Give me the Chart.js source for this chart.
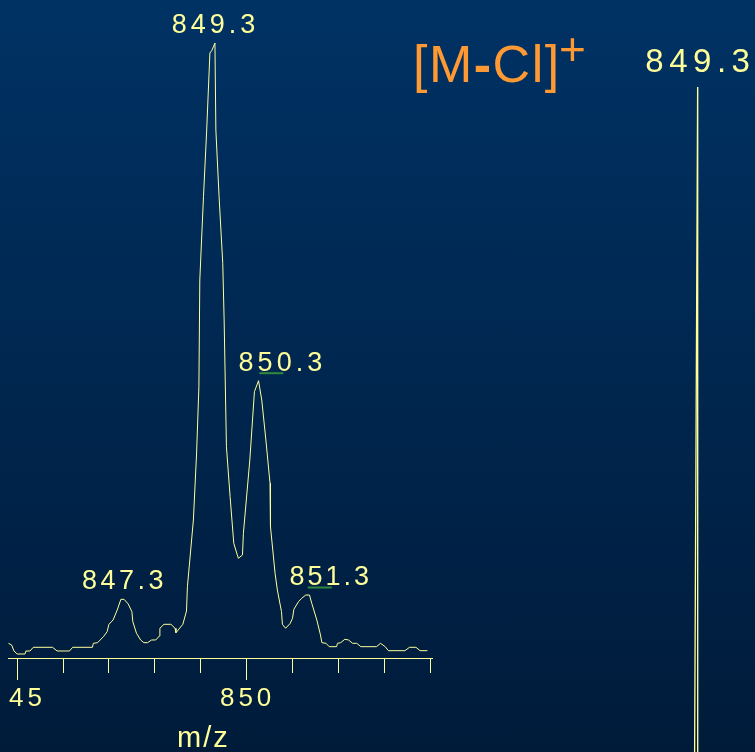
<!DOCTYPE html>
<html><head><meta charset="utf-8">
<script src="https://cdn.jsdelivr.net/npm/chart.js@4.4.0/dist/chart.umd.min.js"></script>
<style>
html,body{margin:0;padding:0;width:755px;height:752px;overflow:hidden;}
body{background:linear-gradient(to bottom,#003264 0%,#001b3a 100%);position:relative;font-family:'Liberation Sans',Arial,sans-serif;}
#c2{position:absolute;left:0;top:0;}
#clip{position:absolute;left:8px;top:0;width:432px;height:752px;overflow:hidden;}
#c1{position:absolute;left:-8px;top:0;}
.title{position:absolute;left:413px;top:38px;font-size:52px;line-height:52px;letter-spacing:1.5px;color:#ff9933;white-space:nowrap;}
.title b{font-weight:bold;}
.plus{position:absolute;left:559px;top:26px;font-size:46px;line-height:46px;color:#ff9933;}
.mz{position:absolute;left:177px;top:723px;font-size:29px;line-height:29px;letter-spacing:2px;color:#ffff99;white-space:nowrap;}
</style></head>
<body>
<canvas id="c2" width="755" height="752"></canvas>
<div id="clip"><canvas id="c1" width="440" height="752"></canvas></div>
<div class="title">[M<b>-</b>Cl]</div>
<div class="plus">+</div>
<div class="mz">m/z</div>
<script>
// ---- inset spectrum (zoomed, m/z vs relative intensity %) ----
const insetMz = [844.81,844.88,844.93,845.00,845.17,845.19,845.28,845.35,845.77,845.87,846.14,846.21,846.64,846.66,846.75,846.88,846.96,847.00,847.09,847.18,847.26,847.33,847.42,847.50,847.52,847.60,847.69,847.76,847.84,847.93,848.02,848.10,848.11,848.20,848.35,848.44,848.46,848.61,848.69,848.71,848.84,848.91,848.96,848.98,849.06,849.13,849.20,849.24,849.31,849.33,849.40,849.48,849.51,849.56,849.64,849.72,849.82,849.91,849.93,850.07,850.17,850.26,850.33,850.42,850.51,850.52,850.62,850.67,850.76,850.78,850.85,850.95,851.00,851.03,851.13,851.20,851.29,851.37,851.42,851.53,851.61,851.64,851.73,851.80,851.96,851.98,852.05,852.14,852.22,852.31,852.40,852.49,852.83,852.92,853.02,853.09,853.45,853.55,853.69,853.78,853.94];
const insetIntensity = [2.39,2.11,1.14,0.65,0.65,1.14,1.14,1.74,1.74,1.14,1.14,1.74,1.74,2.39,2.49,3.46,4.28,5.48,6.18,7.80,9.54,9.54,8.78,7.53,5.90,4.02,2.93,2.49,2.49,2.93,2.93,3.58,4.83,5.48,5.48,4.83,4.11,5.48,7.64,11.59,22.44,33.33,44.11,61.46,75.0,85.85,98.37,98.75,100,85.85,75.0,64.18,54.96,34.36,26.23,18.65,16.21,16.75,20.28,32.20,43.30,45.09,41.95,35.45,28.41,21.35,13.77,11.06,7.53,5.48,4.83,5.64,6.46,7.92,9.15,9.71,10.24,10.24,8.89,6.18,3.74,2.49,2.39,1.84,1.84,2.39,2.49,3.04,2.93,2.39,2.39,1.84,1.84,2.39,1.84,1.19,1.19,1.74,1.74,1.19,1.19];
const labeledTicks = [845, 850];
const peakLabels = ['847.3','849.3','850.3','851.3'];
const peakMz = [847.3, 849.3, 850.3, 851.3];
const peakHeight = [9.54, 100, 45.09, 10.24];
const underlinedPeaks = ['850.3','851.3'];

// ---- full spectrum (right) ----
const fullMz = [847.5, 849.3, 849.33];
const fullIntensity = [0, 100, 0];
const fullPeakLabels = ['849.3'];
const fullPeakMz = [849.3];
const fullPeakHeight = [100];

const YEL = '#ffff99';
const FONT = "'Liberation Sans', Arial, sans-serif";

function makeLabelPlugin(cfg){
  return {
    id: 'peakLabels_' + cfg.name,
    afterDatasetsDraw(chart){
      const {ctx, scales:{x, y}} = chart;
      ctx.save();
      ctx.font = cfg.size + 'px ' + FONT;
      ctx.fillStyle = YEL;
      ctx.textAlign = 'center';
      ctx.textBaseline = 'alphabetic';
      cfg.labels.forEach((t, i) => {
        const sp = cfg.spacing[i];
        ctx.letterSpacing = sp + 'px';
        const px = x.getPixelForValue(cfg.mz[i]) + cfg.dx[i] + sp / 2;
        const py = y.getPixelForValue(cfg.heights[i]) + cfg.dy;
        ctx.fillText(t, px, py);
        if (cfg.underline && cfg.underline.includes(t)) {
          ctx.strokeStyle = '#2f8a3c';
          ctx.lineWidth = 2;
          ctx.beginPath();
          ctx.moveTo(px - 23, py + 2.5);
          ctx.lineTo(px + 1, py + 2.5);
          ctx.stroke();
        }
      });
      ctx.restore();
    }
  };
}
const spacingPlugin = { id:'spacing', beforeDraw(chart){ chart.ctx.letterSpacing = '4px'; } };

new Chart(document.getElementById('c2'), {
  type: 'line',
  data: { datasets: [{ data: fullMz.map((m, i) => ({x: m, y: fullIntensity[i]})), borderColor: YEL, borderWidth: 1.3, pointRadius: 0, tension: 0, fill: false }] },
  options: {
    responsive: false, animation: false, events: [],
    layout: { padding: { left: 0, right: 0, top: 87, bottom: 0 } },
    plugins: { legend: { display: false }, tooltip: { enabled: false } },
    scales: {
      x: { type: 'linear', min: 600, max: 869.8, display: false },
      y: { min: 40, max: 100, display: false }
    }
  },
  plugins: [makeLabelPlugin({name:'full', labels: fullPeakLabels, mz: fullPeakMz, heights: fullPeakHeight, dx: [0], dy: -15, size: 33, spacing: [5.5]})]
});

new Chart(document.getElementById('c1'), {
  type: 'line',
  data: { datasets: [{ data: insetMz.map((m, i) => ({x: m, y: insetIntensity[i]})), borderColor: YEL, borderWidth: 1, pointRadius: 0, tension: 0, fill: false }] },
  options: {
    responsive: false, animation: false, events: [],
    layout: { padding: { left: 8, right: 8, top: 43, bottom: 0 } },
    plugins: { legend: { display: false }, tooltip: { enabled: false } },
    scales: {
      x: {
        type: 'linear', min: 844.8, max: 854.04,
        border: { display: true, color: YEL, width: 1 },
        grid: {
          display: true, drawOnChartArea: false, drawTicks: true, tickLength: 22,
          tickColor: YEL, tickWidth: 1,
          tickBorderDash: (c) => (c.tick && labeledTicks.includes(c.tick.value)) ? [] : [14, 40]
        },
        ticks: {
          stepSize: 1, autoSkip: false, maxRotation: 0, minRotation: 0, includeBounds: false, padding: 3,
          labelOffset: 1,
          color: YEL, font: { family: FONT, size: 26 },
          callback: (v) => labeledTicks.includes(v) ? String(v) : ''
        },
        afterFit: (s) => { s.height = 94; s.paddingLeft = 0; s.paddingRight = 0; }
      },
      y: { min: 0, max: 100, display: false }
    }
  },
  plugins: [spacingPlugin, makeLabelPlugin({name:'inset', labels: peakLabels, mz: peakMz, heights: peakHeight, dx: [0, -1, 20, 23], dy: -10, size: 27, spacing: [3.5, 4, 4, 3], underline: underlinedPeaks})]
});
</script>
</body></html>
